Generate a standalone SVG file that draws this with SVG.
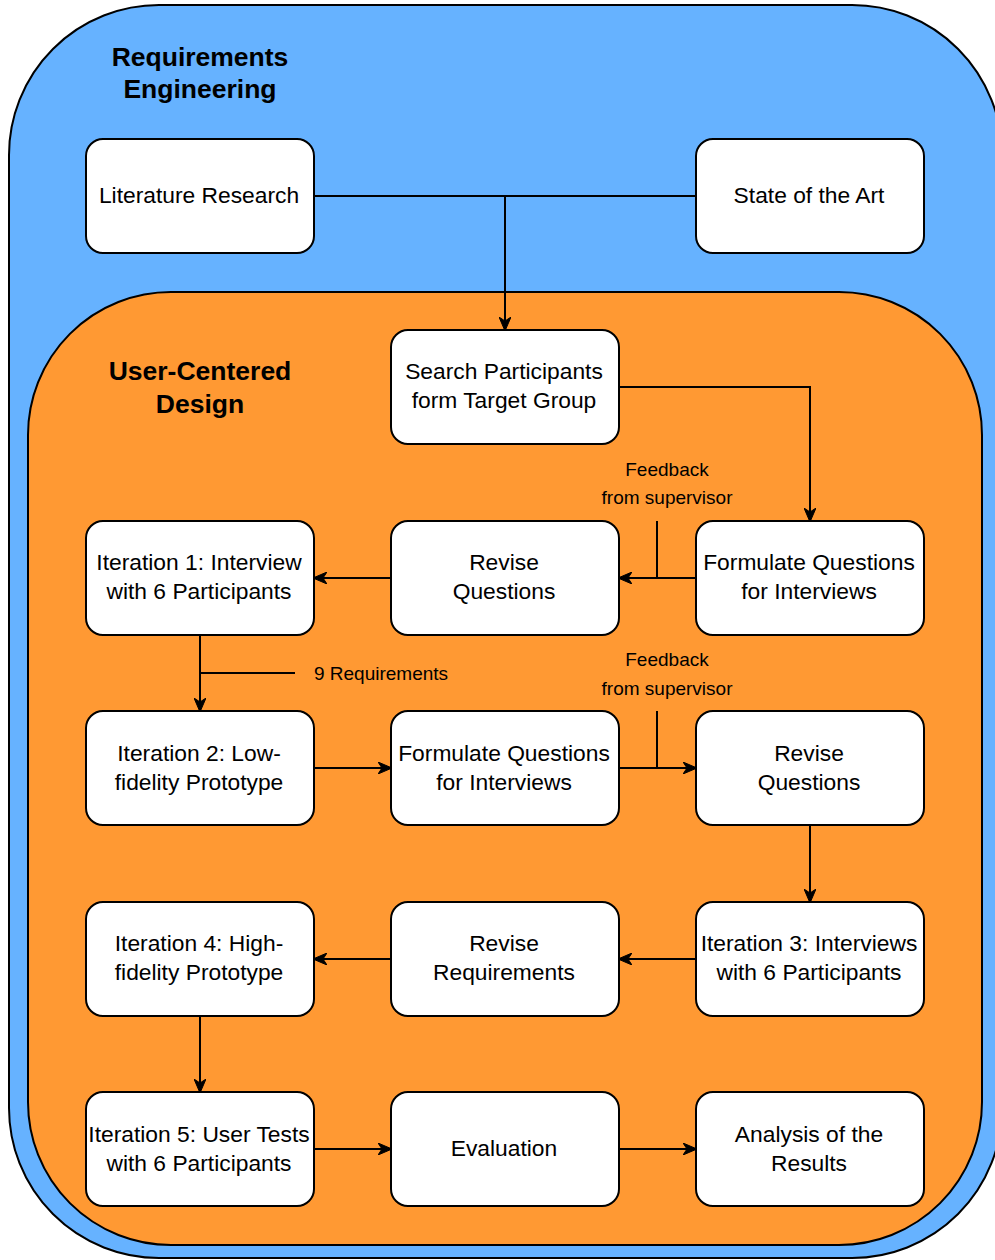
<svg xmlns="http://www.w3.org/2000/svg" width="995" height="1260" viewBox="0 0 995 1260">
<style>
.node rect{fill:#fff;stroke:#000;stroke-width:2}
.node text{font-family:"Liberation Sans",Arial,sans-serif;font-size:22.8px;fill:#000;text-anchor:middle}
.title{font-family:"Liberation Sans",Arial,sans-serif;font-size:26.5px;font-weight:bold;fill:#000;text-anchor:middle}
.lbl{font-family:"Liberation Sans",Arial,sans-serif;font-size:19px;fill:#000;text-anchor:middle}
.conn path{fill:none;stroke:#000;stroke-width:2}
.arr{marker-end:url(#ah)}
</style>
<defs>
<marker id="ah" markerUnits="userSpaceOnUse" markerWidth="14" markerHeight="12" viewBox="0 0 14 12" refX="13" refY="6" orient="auto">
<path d="M0,0 L14,6 L0,12 L4,6 Z" fill="#000" stroke="#000" stroke-width="1"/>
</marker>
</defs>
<g id="requirements-engineering">
<rect x="9" y="5" width="993" height="1253" rx="150" ry="150" fill="#66B2FF" stroke="#000" stroke-width="2"/>
<text class="title" x="200" y="66">Requirements</text>
<text class="title" x="200" y="98">Engineering</text>
</g>
<g id="user-centered-design">
<rect x="28" y="292" width="954" height="953" rx="143" ry="143" fill="#FF9933" stroke="#000" stroke-width="2"/>
<text class="title" x="200" y="380">User-Centered</text>
<text class="title" x="200" y="413">Design</text>
</g>
<g id="connectors" class="conn">
<path d="M314,196 L696,196"/>
<path class="arr" d="M505,196 L505,330"/>
<path class="arr" d="M619,387 L810,387 L810,521"/>
<path class="arr" d="M696,578 L619,578"/>
<path d="M657,521 L657,578"/>
<path class="arr" d="M391,578 L314,578"/>
<path class="arr" d="M200,635 L200,711"/>
<path d="M200,673 L295,673"/>
<path class="arr" d="M314,768 L391,768"/>
<path class="arr" d="M619,768 L696,768"/>
<path d="M657,711 L657,768"/>
<path class="arr" d="M810,825 L810,902"/>
<path class="arr" d="M696,959 L619,959"/>
<path class="arr" d="M391,959 L314,959"/>
<path class="arr" d="M200,1016 L200,1092"/>
<path class="arr" d="M314,1149 L391,1149"/>
<path class="arr" d="M619,1149 L696,1149"/>
<text class="lbl" x="667" y="476">Feedback</text>
<text class="lbl" x="667" y="504">from supervisor</text>
<text class="lbl" x="381" y="680">9 Requirements</text>
<text class="lbl" x="667" y="666">Feedback</text>
<text class="lbl" x="667" y="695">from supervisor</text>
</g>
<g id="literature-research" class="node"><rect x="86" y="139" width="228" height="114" rx="17"/><text x="199" y="203">Literature Research</text></g>
<g id="state-of-the-art" class="node"><rect x="696" y="139" width="228" height="114" rx="17"/><text x="809" y="203">State of the Art</text></g>
<g id="search-participants" class="node"><rect x="391" y="330" width="228" height="114" rx="17"/><text x="504" y="379">Search Participants</text><text x="504" y="408">form Target Group</text></g>
<g id="formulate-questions-1" class="node"><rect x="696" y="521" width="228" height="114" rx="17"/><text x="809" y="570">Formulate Questions</text><text x="809" y="599">for Interviews</text></g>
<g id="revise-questions-1" class="node"><rect x="391" y="521" width="228" height="114" rx="17"/><text x="504" y="570">Revise</text><text x="504" y="599">Questions</text></g>
<g id="iteration-1" class="node"><rect x="86" y="521" width="228" height="114" rx="17"/><text x="199" y="570">Iteration 1: Interview</text><text x="199" y="599">with 6 Participants</text></g>
<g id="iteration-2" class="node"><rect x="86" y="711" width="228" height="114" rx="17"/><text x="199" y="761">Iteration 2: Low-</text><text x="199" y="790">fidelity Prototype</text></g>
<g id="formulate-questions-2" class="node"><rect x="391" y="711" width="228" height="114" rx="17"/><text x="504" y="761">Formulate Questions</text><text x="504" y="790">for Interviews</text></g>
<g id="revise-questions-2" class="node"><rect x="696" y="711" width="228" height="114" rx="17"/><text x="809" y="761">Revise</text><text x="809" y="790">Questions</text></g>
<g id="iteration-3" class="node"><rect x="696" y="902" width="228" height="114" rx="17"/><text x="809" y="951">Iteration 3: Interviews</text><text x="809" y="980">with 6 Participants</text></g>
<g id="revise-requirements" class="node"><rect x="391" y="902" width="228" height="114" rx="17"/><text x="504" y="951">Revise</text><text x="504" y="980">Requirements</text></g>
<g id="iteration-4" class="node"><rect x="86" y="902" width="228" height="114" rx="17"/><text x="199" y="951">Iteration 4: High-</text><text x="199" y="980">fidelity Prototype</text></g>
<g id="iteration-5" class="node"><rect x="86" y="1092" width="228" height="114" rx="17"/><text x="199" y="1142">Iteration 5: User Tests</text><text x="199" y="1171">with 6 Participants</text></g>
<g id="evaluation" class="node"><rect x="391" y="1092" width="228" height="114" rx="17"/><text x="504" y="1156">Evaluation</text></g>
<g id="analysis" class="node"><rect x="696" y="1092" width="228" height="114" rx="17"/><text x="809" y="1142">Analysis of the</text><text x="809" y="1171">Results</text></g>
</svg>
